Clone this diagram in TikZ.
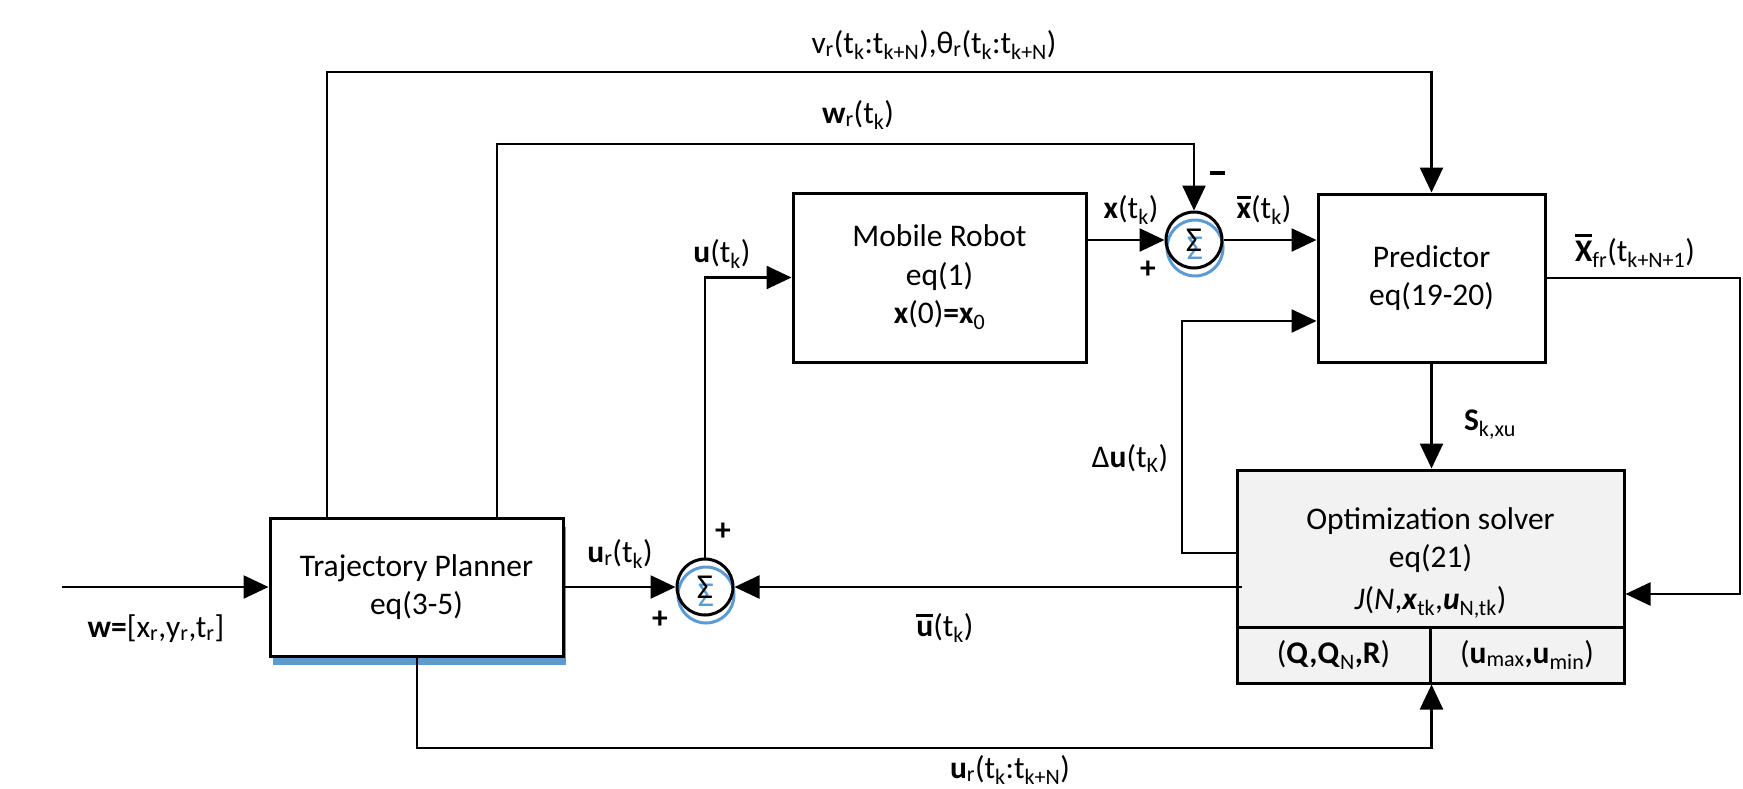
\documentclass[tikz,border=0pt]{standalone}
\usepackage{fontspec}
\setmainfont{Carlito}
\usetikzlibrary{arrows.meta}
\newcommand\sbs[1]{\textsubscript{#1}}
\newcommand\obar[1]{\leavevmode\setbox0\hbox{#1}\rlap{\raisebox{\dimexpr\ht0+4pt\relax}{\rule{\wd0}{2.8pt}}}\box0}
\definecolor{shblue}{HTML}{5B9BD5}
\definecolor{optgray}{HTML}{F2F2F2}
\begin{document}
\begin{tikzpicture}[x=1pt,y=-1pt,
  every node/.style={font=\fontsize{31.5}{38.5}\selectfont, inner sep=0pt},
  blk/.style={draw, line width=3pt, align=center},
  conn/.style={line width=2.5pt},
  arr/.style={conn, -{Triangle[length=25pt,width=23pt]}},
  sumc/.style={circle, draw, line width=3pt, minimum size=56pt, font=\fontsize{35}{40}\selectfont},
  sumb/.style={sumc, draw=shblue, text=shblue},
  lbl/.style={anchor=base},
  sgn/.style={font=\bfseries\fontsize{31.5}{38.5}\selectfont}]
\useasboundingbox (0,0) rectangle (1743,788);

% blue shadows
\fill[shblue] (273,527) rectangle (566,665);
\node[sumb] (sum1b) at (1195,248) {Σ};
\node[sumb] (sum2b) at (706,595) {Σ};

% blocks
\node[blk, fill=white, minimum width=293pt, minimum height=138pt] (planner) at (416.5,587) {Trajectory Planner\\eq(3-5)};
\node[blk, minimum width=293pt, minimum height=169pt] (mr) at (939.5,277.5) {Mobile Robot\\eq(1)\\\textbf{x}(0)\textbf{=x}\sbs{0}};
\node[blk, minimum width=227pt, minimum height=168pt] (pred) at (1431.5,278) {Predictor\\eq(19-20)};
\node[blk, fill=optgray, minimum width=387pt, minimum height=157pt] (opt) at (1430.5,548.5) {};
\node[blk, fill=optgray, minimum width=193pt, minimum height=56pt] (qbox) at (1333.5,655) {(\textbf{Q,Q}\sbs{N}\textbf{,R})};
\node[blk, fill=optgray, minimum width=194pt, minimum height=56pt] (ubox) at (1527,655) {(\textbf{u}\sbs{max}\textbf{,u}\sbs{min})};
\node[lbl] (opt1) at (1430.5,529) {Optimization solver};
\node[lbl] (opt2) at (1430.5,567) {eq(21)};
\node[lbl] (opt3) at (1430.5,609) {\textit{J}(\textit{N},\textbf{\textit{x}}\sbs{tk},\textbf{\textit{u}}\sbs{N,tk})};

% summing junctions
\node[sumc] (sum1) at (1194,240) {Σ};
\node[sumc] (sum2) at (705,587) {Σ};

% helper coordinates
\coordinate (in) at (62,587);
\coordinate (vtop) at (327,72);
\coordinate (wtop) at (497,144);
\coordinate (utop) at (705,277.5);
\coordinate (xrt) at (1740,278);
\coordinate (xrb) at (1740,594);
\coordinate (dub) at (1182,553);
\coordinate (dut) at (1182,321);
\coordinate (bl) at (417,748);

% connectors
\draw[arr] (in) -- (planner.west);
\draw[arr] (planner.east) -- (sum2.west);
\draw[arr] (sum2.north) -- (utop) -- (mr.west);
\draw[arr] (mr.east |- sum1) -- (sum1.west);
\draw[arr] (sum1.east) -- (pred.west |- sum1);
\draw[arr] (planner.north -| wtop) -- (wtop) -| (sum1.north);
\draw[arr] (planner.north -| vtop) -- (vtop) -| (pred.north);
\draw[arr] (pred.east) -- (xrt) -- (xrb) -- (opt.east |- xrb);
\draw[arr] (pred.south) -- (pred.south |- opt.north);
\draw[arr] (opt.west |- dub) -- (dub) -- (dut) -- (pred.west |- dut);
\draw[arr] ([xshift=6pt]opt.west |- sum2) -- (sum2.east);
\draw[arr] (planner.south -| bl) -- (bl) -| (qbox.south east);

% labels
\node[lbl] (lv) at (934,53) {v\sbs{r}(t\sbs{k}:t\sbs{k+N}),θ\sbs{r}(t\sbs{k}:t\sbs{k+N})};
\node[lbl] (lw) at (858,123) {\textbf{w}\sbs{r}(t\sbs{k})};
\node[lbl] (lx) at (1131,218) {\textbf{x}(t\sbs{k})};
\node[lbl] (lxb) at (1264,218) {\obar{\textbf{x}}(t\sbs{k})};
\node[lbl] (lu) at (722,262) {\textbf{u}(t\sbs{k})};
\node[lbl] (lxf) at (1635,261) {\obar{\textbf{X}}\sbs{fr}(t\sbs{k+N+1})};
\node[lbl] (ldu) at (1130,467) {Δ\textbf{u}(t\sbs{K})};
\node[lbl] (ls) at (1490,430) {\textbf{S}\sbs{k,xu}};
\node[lbl] (lur) at (620,562) {\textbf{u}\sbs{r}(t\sbs{k})};
\node[lbl] (lub) at (945,636) {\obar{\textbf{u}}(t\sbs{k})};
\node[lbl] (lwin) at (156,637) {\textbf{w=}[x\sbs{r},y\sbs{r},t\sbs{r}]};
\node[lbl] (lurn) at (1010,778) {\textbf{u}\sbs{r}(t\sbs{k}:t\sbs{k+N})};

% signs
\node[sgn] (m1) at (1217,173) {\rule{15pt}{3.5pt}};
\node[sgn] (p1) at (1148,270) {+};
\node[sgn] (p2) at (723,532) {+};
\node[sgn] (p3) at (660,620) {+};
\end{tikzpicture}
\end{document}
